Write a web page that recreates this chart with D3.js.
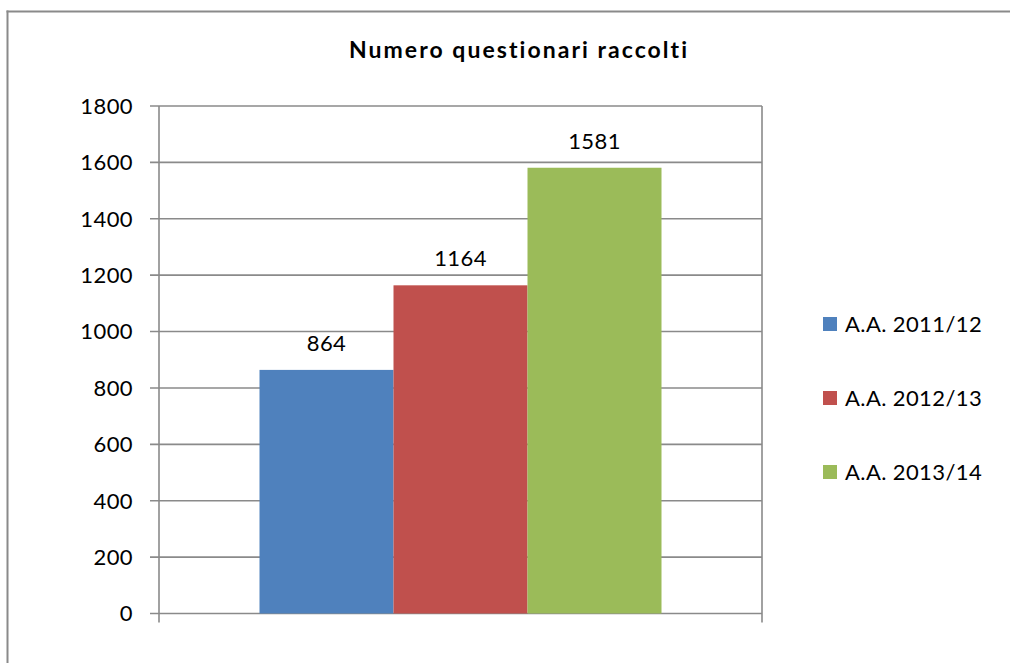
<!DOCTYPE html>
<html>
<head>
<meta charset="utf-8">
<script src="https://cdn.jsdelivr.net/npm/d3@7"></script>
<style>
  html, body { margin: 0; padding: 0; background: #fff; overflow: hidden; }
  svg { display: block; }
  text { font-family: Lato, "Open Sans", sans-serif; fill: #000; font-variant-ligatures: none; font-feature-settings: "liga" 0; }
</style>
</head>
<body>
<svg id="chart" width="1010" height="663"></svg>
<script>
const title = "Numero questionari raccolti";
const categories = [""];
const seriesNames = ["A.A. 2011/12", "A.A. 2012/13", "A.A. 2013/14"];
const seriesValues = [864, 1164, 1581];
const seriesColors = ["#4F81BD", "#C0504D", "#9BBB59"];
const yTicks = [0, 200, 400, 600, 800, 1000, 1200, 1400, 1600, 1800];

const svg = d3.select("#chart");
const plot = { left: 159, right: 762, top: 106, bottom: 613.5 };
const gridColor = "#8a8a8a";
const fontSize = 22;
const spacing = 0.4;

// outer chart border (only top and left edges are inside the picture)
svg.append("line")
  .attr("x1", 6.5).attr("x2", 1010).attr("y1", 11.5).attr("y2", 11.5)
  .attr("stroke", gridColor).attr("stroke-width", 2);
svg.append("line")
  .attr("x1", 7.5).attr("x2", 7.5).attr("y1", 10.5).attr("y2", 663)
  .attr("stroke", gridColor).attr("stroke-width", 2);

const y = d3.scaleLinear().domain([0, 1800]).range([plot.bottom, plot.top]);
const xCat = d3.scaleBand().domain(categories).range([plot.left, plot.right]);
const xSer = d3.scaleBand().domain(seriesNames)
  .range([0, xCat.bandwidth()]).paddingInner(0).paddingOuter(0.75);

// horizontal gridlines
svg.append("g").selectAll("line").data(yTicks).join("line")
  .attr("x1", plot.left - 9).attr("x2", plot.right)
  .attr("y1", d => y(d)).attr("y2", d => y(d))
  .attr("stroke", gridColor).attr("stroke-width", 1.6);

// y axis labels
svg.append("g").selectAll("text").data(yTicks).join("text")
  .attr("x", plot.left - 26).attr("y", d => y(d))
  .attr("dy", "0.36em")
  .attr("text-anchor", "end")
  .attr("font-size", fontSize)
  .attr("letter-spacing", spacing)
  .text(d => d);

// bars
const bars = svg.append("g");
seriesNames.forEach((s, i) => {
  const x0 = xCat(categories[0]) + xSer(s);
  bars.append("rect")
    .attr("x", x0).attr("y", y(seriesValues[i]))
    .attr("width", xSer.bandwidth())
    .attr("height", y(0) - y(seriesValues[i]))
    .attr("fill", seriesColors[i]);
  bars.append("text")
    .attr("x", x0 + xSer.bandwidth() / 2)
    .attr("y", y(seriesValues[i]) - 19)
    .attr("text-anchor", "middle")
    .attr("font-size", fontSize)
    .attr("letter-spacing", spacing)
    .text(seriesValues[i]);
});

// vertical axis line + category boundaries
const vlines = [plot.left, plot.right];
svg.append("g").selectAll("line").data(vlines).join("line")
  .attr("x1", d => d).attr("x2", d => d)
  .attr("y1", plot.top).attr("y2", plot.bottom + 9)
  .attr("stroke", gridColor).attr("stroke-width", 1.6);

// title
svg.append("text")
  .attr("x", 518).attr("y", 58)
  .attr("text-anchor", "middle")
  .attr("font-size", 23)
  .attr("font-weight", "bold")
  .attr("textLength", 338)
  .attr("lengthAdjust", "spacing")
  .text(title);

// legend
const legend = svg.append("g");
const legY = [324, 398, 472];
seriesNames.forEach((s, i) => {
  legend.append("rect")
    .attr("x", 823).attr("y", legY[i] - 7)
    .attr("width", 14).attr("height", 14)
    .attr("fill", seriesColors[i]);
  legend.append("text")
    .attr("x", 845).attr("y", legY[i])
    .attr("dy", "0.36em")
    .attr("font-size", fontSize)
    .attr("letter-spacing", spacing)
    .text(s);
});
</script>
</body>
</html>
